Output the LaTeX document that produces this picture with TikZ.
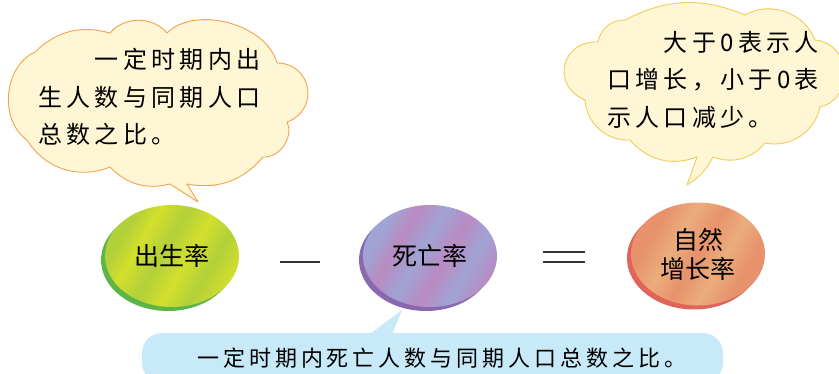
\documentclass[tikz,border=0pt]{standalone}
\usepackage{fontspec}
\usepackage{tikz}
\usetikzlibrary{shapes.geometric, shadows}
\newfontfamily\cjk{Noto Sans CJK SC}
\newfontfamily\cjkwide[LetterSpace=18]{Noto Sans CJK SC}

\definecolor{cloudfill}{HTML}{FEF6D4}
\definecolor{birthline}{HTML}{F5A24C}
\definecolor{growline}{HTML}{F2CB58}
\definecolor{notefill}{HTML}{C7E9F8}
\definecolor{birthA}{HTML}{B2D03A}
\definecolor{birthB}{HTML}{D3DF2C}
\definecolor{birthrim}{HTML}{5DB548}
\definecolor{deathA}{HTML}{A0A3D4}
\definecolor{deathB}{HTML}{B98BC1}
\definecolor{deathrim}{HTML}{8A68B0}
\definecolor{growA}{HTML}{E7926D}
\definecolor{growB}{HTML}{EBAD7C}
\definecolor{growrim}{HTML}{E0645A}

\pgfdeclarehorizontalshading{birthshade}{100bp}{color(0bp)=(birthA); color(28bp)=(birthA); color(36bp)=(birthB); color(46bp)=(birthA); color(56bp)=(birthB); color(66bp)=(birthA); color(76bp)=(birthB); color(100bp)=(birthB)}
\pgfdeclarehorizontalshading{deathshade}{100bp}{color(0bp)=(deathA); color(28bp)=(deathA); color(36bp)=(deathB); color(46bp)=(deathA); color(56bp)=(deathB); color(66bp)=(deathA); color(76bp)=(deathB); color(100bp)=(deathA)}
\pgfdeclarehorizontalshading{growshade}{100bp}{color(0bp)=(growA); color(30bp)=(growA); color(40bp)=(growB); color(50bp)=(growA); color(60bp)=(growB); color(70bp)=(growA); color(100bp)=(growA)}

\begin{document}
\begin{tikzpicture}[
  x=1pt, y=1pt,
  disc/.style={ellipse, minimum width=134, minimum height=102, inner sep=0, align=center,
    font=\cjk\fontsize{25}{29}\selectfont, text=black, shading angle=-30},
  rim/.style={drop shadow={shadow xshift=-4pt, shadow yshift=-4pt, opacity=1, fill=#1}},
  cloud/.style={fill=cloudfill, line width=0.9pt, line join=round},
  say/.style={inner sep=0, align=left, anchor=north west, text=black,
    font=\cjkwide\fontsize{24}{37.5}\selectfont},
  sign/.style={line width=2.2pt, black!80}
]
\useasboundingbox (0,0) rectangle (839,-374);

\draw[cloud, draw=birthline] (170,-184) -- (198,-202) -- (187,-184)
  to[bend right=30] (263,-157)
  to[bend right=60] (287,-122)
  to[bend right=80, looseness=1.5] (277,-63)
  to[bend right=60, looseness=0.9] (167,-33)
  to[bend right=50] (110,-33)
  to[bend right=30] (35,-52)
  to[bend right=60] (27,-140)
  to[bend right=40] (110,-167)
  to[bend right=30] cycle;

\draw[cloud, draw=growline] (697,-157) -- (687,-185) to[bend right=15] (713,-157)
  to[bend right=35] (765,-143)
  to[bend right=45] (820,-107)
  to[bend right=80, looseness=1.4] (815,-40)
  to[bend right=50] (745,-15)
  to[bend right=25] (625,-20)
  to[bend right=40] (598,-42)
  to[bend right=80, looseness=1.6] (585,-100)
  to[bend right=45] (630,-140)
  to[bend right=35] cycle;

\node[say] (birthsay) at (38,-48) {　　一定时期内出\\生人数与同期人口\\总数之比。};
\node[say] (growsay) at (607,-31) {　　大于0表示人\\口增长，小于0表\\示人口减少。};

\node[disc, rim=birthrim, shading=birthshade] (birth) at (172,-256) {出生率};
\node[disc, rim=deathrim, shading=deathshade] (death) at (430,-256) {死亡率};
\node[disc, rim=growrim, shading=growshade, minimum height=103] (grow) at (698,-254) {自然\\增长率};

\draw[sign] (280,-262) -- (320,-262);
\draw[sign, line width=2pt] (543,-252) -- (585,-252);
\draw[sign, line width=2pt] (543,-262) -- (585,-262);

\node[fill=notefill, rounded corners=20pt, minimum width=581, minimum height=50] (note) at (432.5,-358) {};
\fill[notefill] ([xshift=-65pt, yshift=-3pt]note.north) -- (402,-310) -- ([xshift=-41pt, yshift=-3pt]note.north) -- cycle;
\node[inner sep=0, anchor=west, text=black, font=\cjkwide\fontsize{22}{26}\selectfont] (notetext) at (197,-358)
  {一定时期内死亡人数与同期人口总数之比。};
\end{tikzpicture}
\end{document}
